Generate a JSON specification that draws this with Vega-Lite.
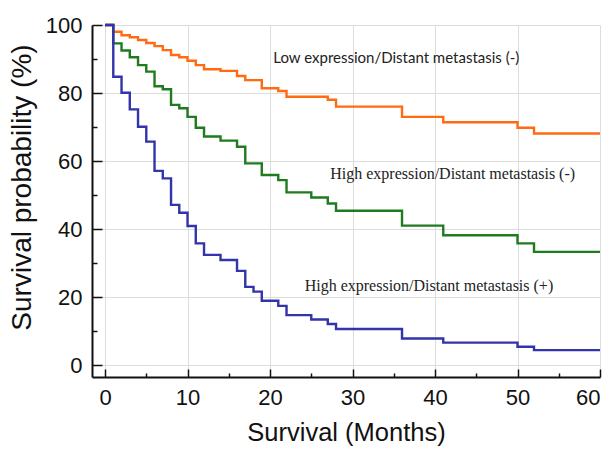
{
  "$schema": "https://vega.github.io/schema/vega-lite/v6.json",
  "width": 508,
  "height": 352,
  "autosize": {"type": "none"},
  "padding": {"left": 92, "top": 25, "right": 14, "bottom": 80},
  "config": {"view": {"stroke": null}, "font": "Liberation Sans"},
  "datasets": {
    "curves": [
      {"group": "Low", "month": 0, "pct": 100},
      {"group": "Low", "month": 1, "pct": 98},
      {"group": "Low", "month": 2, "pct": 97},
      {"group": "Low", "month": 3, "pct": 96.4},
      {"group": "Low", "month": 4, "pct": 95.6},
      {"group": "Low", "month": 5, "pct": 94.7},
      {"group": "Low", "month": 6, "pct": 93.8},
      {"group": "Low", "month": 7, "pct": 92.6},
      {"group": "Low", "month": 8, "pct": 91.2},
      {"group": "Low", "month": 9, "pct": 90.5},
      {"group": "Low", "month": 10, "pct": 89.5},
      {"group": "Low", "month": 11, "pct": 88.2},
      {"group": "Low", "month": 12, "pct": 87},
      {"group": "Low", "month": 14, "pct": 86.5},
      {"group": "Low", "month": 16, "pct": 85},
      {"group": "Low", "month": 17, "pct": 83.8},
      {"group": "Low", "month": 19, "pct": 81.4},
      {"group": "Low", "month": 21, "pct": 80.6},
      {"group": "Low", "month": 22, "pct": 78.9},
      {"group": "Low", "month": 27, "pct": 78},
      {"group": "Low", "month": 28, "pct": 76},
      {"group": "Low", "month": 36, "pct": 73},
      {"group": "Low", "month": 41, "pct": 71.4},
      {"group": "Low", "month": 50, "pct": 69.8},
      {"group": "Low", "month": 52, "pct": 68.1},
      {"group": "Low", "month": 60, "pct": 68.1},
      {"group": "HighNeg", "month": 0, "pct": 100},
      {"group": "HighNeg", "month": 1, "pct": 94.6},
      {"group": "HighNeg", "month": 2, "pct": 92.5},
      {"group": "HighNeg", "month": 3, "pct": 90.5},
      {"group": "HighNeg", "month": 4, "pct": 88.2},
      {"group": "HighNeg", "month": 5, "pct": 86.3},
      {"group": "HighNeg", "month": 6, "pct": 82},
      {"group": "HighNeg", "month": 7, "pct": 81.1},
      {"group": "HighNeg", "month": 8, "pct": 76.5},
      {"group": "HighNeg", "month": 9, "pct": 75.5},
      {"group": "HighNeg", "month": 10, "pct": 73},
      {"group": "HighNeg", "month": 11, "pct": 69.8},
      {"group": "HighNeg", "month": 12, "pct": 67.2},
      {"group": "HighNeg", "month": 14, "pct": 66},
      {"group": "HighNeg", "month": 16, "pct": 64.2},
      {"group": "HighNeg", "month": 17, "pct": 59.3},
      {"group": "HighNeg", "month": 19, "pct": 55.9},
      {"group": "HighNeg", "month": 21, "pct": 54.4},
      {"group": "HighNeg", "month": 22, "pct": 50.8},
      {"group": "HighNeg", "month": 25, "pct": 49.3},
      {"group": "HighNeg", "month": 27, "pct": 47.5},
      {"group": "HighNeg", "month": 28, "pct": 45.4},
      {"group": "HighNeg", "month": 36, "pct": 41},
      {"group": "HighNeg", "month": 41, "pct": 38.2},
      {"group": "HighNeg", "month": 50, "pct": 35.8},
      {"group": "HighNeg", "month": 52, "pct": 33.3},
      {"group": "HighNeg", "month": 60, "pct": 33.3},
      {"group": "HighPos", "month": 0, "pct": 100},
      {"group": "HighPos", "month": 1, "pct": 84.8},
      {"group": "HighPos", "month": 2, "pct": 80.1},
      {"group": "HighPos", "month": 3, "pct": 75.2},
      {"group": "HighPos", "month": 4, "pct": 70.1},
      {"group": "HighPos", "month": 5, "pct": 65.7},
      {"group": "HighPos", "month": 6, "pct": 57.1},
      {"group": "HighPos", "month": 7, "pct": 54.9},
      {"group": "HighPos", "month": 8, "pct": 47.1},
      {"group": "HighPos", "month": 9, "pct": 44.8},
      {"group": "HighPos", "month": 10, "pct": 40.9},
      {"group": "HighPos", "month": 11, "pct": 35.8},
      {"group": "HighPos", "month": 12, "pct": 32.4},
      {"group": "HighPos", "month": 14, "pct": 30.9},
      {"group": "HighPos", "month": 16, "pct": 27.7},
      {"group": "HighPos", "month": 17, "pct": 23},
      {"group": "HighPos", "month": 18, "pct": 21.6},
      {"group": "HighPos", "month": 19, "pct": 18.9},
      {"group": "HighPos", "month": 21, "pct": 17.4},
      {"group": "HighPos", "month": 22, "pct": 14.7},
      {"group": "HighPos", "month": 25, "pct": 13.4},
      {"group": "HighPos", "month": 27, "pct": 12.1},
      {"group": "HighPos", "month": 28, "pct": 10.6},
      {"group": "HighPos", "month": 36, "pct": 7.8},
      {"group": "HighPos", "month": 41, "pct": 6.6},
      {"group": "HighPos", "month": 50, "pct": 5.4},
      {"group": "HighPos", "month": 52, "pct": 4.4},
      {"group": "HighPos", "month": 60, "pct": 4.4}
    ],
    "labels": [
      {"kind": "sans", "month": 20.4, "pct": 90.3, "label": "Low expression/Distant metastasis (-)"},
      {"kind": "serif", "month": 27.3, "pct": 56.2, "label": "High expression/Distant metastasis (-)"},
      {"kind": "serif", "month": 24.2, "pct": 23.2, "label": "High expression/Distant metastasis (+)"}
    ]
  },
  "encoding": {
    "x": {
      "field": "month", "type": "quantitative",
      "scale": {"domain": [-1.58, 60], "nice": false, "zero": false},
      "axis": {
        "title": "Survival (Months)",
        "values": [0, 5, 10, 15, 20, 25, 30, 35, 40, 45, 50, 55, 60],
        "labelExpr": "datum.value % 10 === 0 ? datum.label : ''",
        "labelFontSize": 22, "labelColor": "#111", "labelPadding": 18,
        "titleFontSize": 25.5, "titleColor": "#111", "titleFontWeight": "normal", "titlePadding": 12,
        "domainColor": "#111", "domainWidth": 2,
        "tickColor": "#111", "tickWidth": 1.5,
        "tickSize": {"condition": {"test": "datum.value % 10 === 0", "value": -8}, "value": -4},
        "grid": true, "gridColor": "#dddddd",
        "gridOpacity": {"condition": {"test": "datum.value % 10 === 0", "value": 1}, "value": 0}
      }
    },
    "y": {
      "field": "pct", "type": "quantitative",
      "scale": {"domain": [-3.5, 100], "nice": false, "zero": false},
      "axis": {
        "title": "Survival probability (%)",
        "values": [0, 10, 20, 30, 40, 50, 60, 70, 80, 90, 100],
        "labelExpr": "datum.value % 20 === 0 ? datum.label : ''",
        "labelFontSize": 22, "labelColor": "#111", "labelPadding": 20,
        "titleFontSize": 28, "titleColor": "#111", "titleFontWeight": "normal", "titlePadding": 9,
        "titleY": 162,
        "domainColor": "#111", "domainWidth": 2,
        "tickColor": "#111", "tickWidth": 1.5,
        "tickSize": {"condition": {"test": "datum.value % 20 === 0", "value": -10}, "value": -5},
        "grid": true, "gridColor": "#dddddd",
        "gridOpacity": {"condition": {"test": "datum.value % 20 === 0", "value": 1}, "value": 0}
      }
    }
  },
  "layer": [
    {
      "data": {"name": "curves"},
      "mark": {"type": "line", "interpolate": "step-after", "strokeWidth": 2.4},
      "encoding": {
        "color": {
          "field": "group", "type": "nominal",
          "scale": {"domain": ["Low", "HighNeg", "HighPos"], "range": ["#ff6a13", "#1e7b1e", "#3333aa"]},
          "legend": null
        }
      }
    },
    {
      "data": {"name": "labels"},
      "transform": [{"filter": "datum.kind === 'sans'"}],
      "mark": {"type": "text", "align": "left", "baseline": "middle", "font": "Lato", "fontSize": 15, "color": "#222"},
      "encoding": {"text": {"field": "label"}}
    },
    {
      "data": {"name": "labels"},
      "transform": [{"filter": "datum.kind === 'serif'"}],
      "mark": {"type": "text", "align": "left", "baseline": "middle", "font": "Liberation Serif", "fontSize": 16, "color": "#222"},
      "encoding": {"text": {"field": "label"}}
    }
  ]
}
